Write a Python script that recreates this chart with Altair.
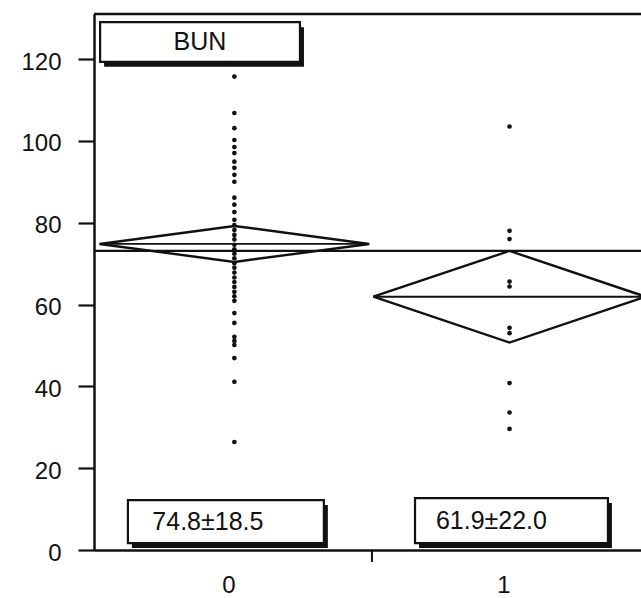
import altair as alt
import pandas as pd

# --- data -------------------------------------------------------------
groups = ["0", "1"]

# individual BUN values per group
bun_group0 = [115.7, 106.8, 103.1, 100.2, 98.5, 97.0, 94.9, 93.4, 91.7, 90.0,
              86.1, 84.4, 82.6, 80.7, 79.4, 78.2, 77.0, 75.9, 74.6, 73.5,
              72.4, 71.3, 70.1, 69.0, 67.8, 66.6, 65.5, 64.3, 63.1, 62.0,
              60.9, 57.9, 55.5, 52.1, 51.1, 50.1, 46.9, 41.1, 26.4]
bun_group1 = [103.5, 78.0, 76.0, 65.6, 64.4, 54.3, 53.0, 40.8, 33.6, 29.6]

group_means = [74.8, 61.9]
group_sds = [18.5, 22.0]
ci_half = [4.4, 11.2]          # half-height of the 95% means diamonds
grand_mean = 73.1
panel_title = "BUN"

# --- layout on a continuous x scale: group k occupies [k, k+1] ---------
centers = [0.505, 1.495]
half_widths = [0.485, 0.49]
X_DOMAIN = [0, 1.968]
Y_DOMAIN = [0, 131]
FONT = "Liberation Sans"
INK = "#111111"

W, H = 547, 536

points = pd.DataFrame(
    [{"x": centers[0], "y": v} for v in bun_group0]
    + [{"x": centers[1], "y": v} for v in bun_group1]
)

diamond_rows = []
for g, (c, hw, m, h) in enumerate(zip(centers, half_widths, group_means, ci_half)):
    verts = [(c - hw, m), (c, m + h), (c + hw, m), (c, m - h), (c - hw, m)]
    for i, (vx, vy) in enumerate(verts):
        diamond_rows.append({"g": groups[g], "o": i, "x": vx, "y": vy})
diamonds = pd.DataFrame(diamond_rows)

mean_lines = pd.DataFrame(
    [{"x": c - hw, "x2": c + hw, "y": m}
     for c, hw, m in zip(centers, half_widths, group_means)]
)

labels = [f"{m:.1f}±{s:.1f}" for m, s in zip(group_means, group_sds)]
boxes = pd.DataFrame([
    {"x": 0.022, "x2": 0.741, "y": 119.3, "y2": 129.0,
     "tx": 0.381, "ty": 124.2, "label": panel_title, "align": "center"},
    {"x": 0.122, "x2": 0.827, "y": 1.7, "y2": 12.2,
     "tx": 0.21, "ty": 6.8, "label": labels[0], "align": "left"},
    {"x": 1.155, "x2": 1.849, "y": 1.7, "y2": 12.7,
     "tx": 1.23, "ty": 7.0, "label": labels[1], "align": "left"},
])

xscale = alt.Scale(domain=X_DOMAIN, nice=False, zero=False)
yscale = alt.Scale(domain=Y_DOMAIN, nice=False, zero=False)

xaxis = alt.Axis(
    values=centers, labelExpr="datum.value < 1 ? '0' : '1'",
    ticks=False, grid=False, title=None, labelOffset=-6,
    labelPadding=23, domainWidth=2.5, domainColor=INK,
)
yaxis = alt.Axis(
    values=[0, 20, 40, 60, 80, 100, 120], grid=False, title=None,
    tickSize=16, tickWidth=2.2, tickColor=INK, labelPadding=17,
    domainWidth=2.5, domainColor=INK, labelOffset=3,
)


def X(field="x"):
    return alt.X(f"{field}:Q", scale=xscale, axis=xaxis)


def Y(field="y"):
    return alt.Y(f"{field}:Q", scale=yscale, axis=yaxis)


dots = alt.Chart(points).mark_circle(size=22, color=INK, opacity=1).encode(
    x=X(), y=Y()
)

diamond = alt.Chart(diamonds).mark_line(
    color=INK, strokeWidth=2.4, clip=True
).encode(x=X(), y=Y(), detail="g:N", order="o:Q")

means = alt.Chart(mean_lines).mark_rule(
    color=INK, strokeWidth=1.8, clip=True
).encode(x=X(), x2="x2:Q", y=Y())

grand = alt.Chart(pd.DataFrame({"y": [grand_mean]})).mark_rule(
    color=INK, strokeWidth=2.2
).encode(y=Y(), x=alt.value(0), x2=alt.value(W))

top_border = alt.Chart(pd.DataFrame({"y": [Y_DOMAIN[1]]})).mark_rule(
    color=INK, strokeWidth=2.5
).encode(y=Y(), x=alt.value(0), x2=alt.value(W))

group_tick = alt.Chart(pd.DataFrame({"x": [1.0]})).mark_rule(
    color=INK, strokeWidth=2
).encode(x=X(), y=alt.value(H), y2=alt.value(H + 12))

shadow = alt.Chart(boxes).mark_rect(
    color=INK, xOffset=4, x2Offset=4, yOffset=5, y2Offset=5
).encode(x=X(), x2="x2:Q", y=Y(), y2="y2:Q")

box = alt.Chart(boxes).mark_rect(
    fill="white", stroke=INK, strokeWidth=2.2
).encode(x=X(), x2="x2:Q", y=Y(), y2="y2:Q")

box_text_c = alt.Chart(boxes[boxes["align"] == "center"]).mark_text(
    font=FONT, fontSize=25, color=INK, align="center", baseline="middle"
).encode(x=X("tx"), y=Y("ty"), text="label:N")

box_text_l = alt.Chart(boxes[boxes["align"] == "left"]).mark_text(
    font=FONT, fontSize=25, color=INK, align="left", baseline="middle"
).encode(x=X("tx"), y=Y("ty"), text="label:N")

chart = alt.layer(
    grand, diamond, means, dots, top_border, group_tick,
    shadow, box, box_text_c, box_text_l,
).properties(
    width=W, height=H,
    autosize=alt.AutoSizeParams(type="none"),
    padding={"left": 94, "top": 14, "right": 0, "bottom": 48},
    background="white",
).configure_view(
    stroke=None
).configure_axis(
    labelFont=FONT, labelFontSize=24, labelColor=INK,
)

chart.save("out.html", embed_options={"renderer": "svg", "actions": False})
